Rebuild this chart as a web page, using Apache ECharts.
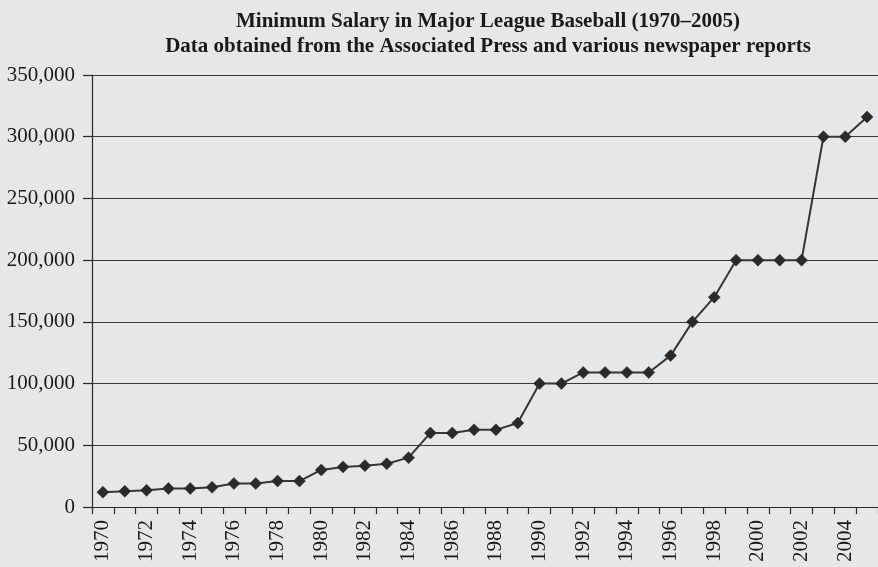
<!DOCTYPE html>
<html>
<head>
<meta charset="utf-8">
<script src="https://cdn.jsdelivr.net/npm/echarts@6/dist/echarts.min.js"></script>
<style>
  html, body { margin: 0; padding: 0; background: #e6e7e9; }
  #chart { width: 878px; height: 567px; }
</style>
</head>
<body>
<div id="chart"></div>
<script>
// Major League Baseball minimum salary by season (US dollars)
const years = [
  '1970', '1971', '1972', '1973', '1974', '1975', '1976', '1977', '1978', '1979',
  '1980', '1981', '1982', '1983', '1984', '1985', '1986', '1987', '1988', '1989',
  '1990', '1991', '1992', '1993', '1994', '1995', '1996', '1997', '1998', '1999',
  '2000', '2001', '2002', '2003', '2004', '2005'
];
const minSalary = [
  12000, 12750, 13500, 15000, 15000, 16000, 19000, 19000, 21000, 21000,
  30000, 32500, 33500, 35000, 40000, 60000, 60000, 62500, 62500, 68000,
  100000, 100000, 109000, 109000, 109000, 109000, 122667, 150000, 170000, 200000,
  200000, 200000, 200000, 300000, 300000, 316000
];
const yMin = 0;
const yMax = 350000;
const yStep = 50000;

const serif = '"Liberation Serif", "Times New Roman", serif';
const ink = '#2b2b2b';

const chart = echarts.init(document.getElementById('chart'));
chart.setOption({
  backgroundColor: '#e6e7e9',
  animation: false,
  title: {
    text: 'Minimum Salary in Major League Baseball (1970\u20132005)\nData obtained from the Associated Press and various newspaper reports',
    left: 483,
    top: 4,
    textAlign: 'center',
    textStyle: {
      fontFamily: serif,
      fontWeight: 'bold',
      fontSize: 21,
      lineHeight: 25,
      color: '#1a1a1a'
    }
  },
  grid: {
    left: 92,
    right: -4,
    top: 75,
    bottom: 60,
    containLabel: false
  },
  xAxis: {
    type: 'category',
    data: years,
    boundaryGap: true,
    axisLine: { show: true, lineStyle: { color: ink, width: 1.2 } },
    axisTick: { show: true, length: 7, interval: 0, lineStyle: { color: ink, width: 1.2 } },
    axisLabel: {
      interval: 1,
      rotate: 90,
      margin: 13,
      fontFamily: serif,
      fontSize: 21,
      color: '#1a1a1a'
    },
    splitLine: { show: false }
  },
  yAxis: {
    type: 'value',
    min: yMin,
    max: yMax,
    interval: yStep,
    axisLine: { show: true, lineStyle: { color: ink, width: 1.2 } },
    axisTick: { show: true, length: 9, lineStyle: { color: ink, width: 1.2 } },
    axisLabel: {
      margin: 17,
      fontFamily: serif,
      fontSize: 21,
      color: '#1a1a1a',
      formatter: v => v.toLocaleString('en-US')
    },
    splitLine: { show: true, lineStyle: { color: '#3a3a3a', width: 1 } }
  },
  series: [{
    type: 'line',
    data: minSalary,
    symbol: 'diamond',
    symbolSize: 12,
    lineStyle: { color: '#363636', width: 2 },
    itemStyle: { color: '#2a2a2a', borderColor: '#2a2a2a', borderWidth: 0.5 },
    emphasis: { disabled: true }
  }]
});
</script>
</body>
</html>
